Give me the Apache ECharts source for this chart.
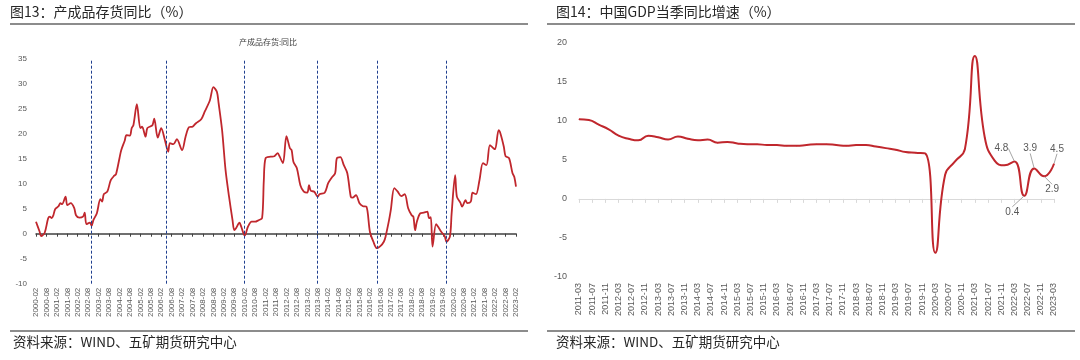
<!DOCTYPE html>
<html><head><meta charset="utf-8">
<script src="https://cdn.jsdelivr.net/npm/echarts@6/dist/echarts.min.js"></script>
<style>html,body{margin:0;padding:0;background:#fff}#c{width:1080px;height:360px}</style>
</head><body><div id="c"></div>
<script>
// ---------- Data: 产成品存货同比 (%) ----------
const invDates = ['2000-02','2000-04','2000-05','2000-07','2000-09','2000-10','2000-11','2000-12','2001-01','2001-03','2001-04','2001-05','2001-07','2001-08','2001-10','2001-12','2002-01','2002-03','2002-05','2002-06','2002-07','2002-09','2002-10','2002-11','2003-01','2003-03','2003-04','2003-05','2003-07','2003-09','2003-11','2003-12','2004-02','2004-03','2004-05','2004-06','2004-08','2004-09','2004-10','2004-12','2005-02','2005-03','2005-05','2005-06','2005-08','2005-09','2005-10','2005-12','2006-02','2006-04','2006-06','2006-07','2006-09','2006-11','2007-02','2007-04','2007-06','2007-08','2007-10','2008-01','2008-03','2008-06','2008-08','2008-10','2008-11','2009-01','2009-03','2009-05','2009-07','2009-08','2009-09','2009-11','2009-12','2010-02','2010-04','2010-06','2010-08','2010-10','2010-12','2011-01','2011-02','2011-05','2011-07','2011-09','2011-10','2011-12','2012-02','2012-04','2012-05','2012-06','2012-08','2012-10','2012-12','2013-02','2013-03','2013-04','2013-06','2013-08','2013-09','2013-12','2014-02','2014-04','2014-06','2014-07','2014-09','2014-11','2015-01','2015-03','2015-04','2015-06','2015-08','2015-10','2015-12','2016-02','2016-04','2016-06','2016-08','2016-10','2016-11','2017-01','2017-02','2017-04','2017-06','2017-08','2017-10','2017-12','2018-02','2018-03','2018-04','2018-05','2018-07','2018-09','2018-11','2018-12','2019-01','2019-02','2019-04','2019-05','2019-07','2019-09','2019-10','2019-12','2020-01','2020-03','2020-04','2020-06','2020-07','2020-09','2020-10','2020-12','2021-01','2021-03','2021-05','2021-07','2021-09','2021-11','2022-01','2022-02','2022-04','2022-05','2022-07','2022-08','2022-10','2022-12','2023-01','2023-02'];
const invValues = [2.4,0.5,-0.5,0.2,3.1,3.4,3.1,3.7,4.9,5.5,6.1,5.9,7.4,5.7,6.1,5.1,3.7,3.2,3.4,4.2,1.9,2.2,1.6,2.7,4.1,6.9,6.4,7.9,8.4,10.7,11.6,11.9,15.1,16.7,18.6,19.7,19.6,21.1,21.7,25.9,21.1,21.4,19.4,21.1,21.5,21.7,23.0,19.2,21.1,18.9,16.4,18.1,17.9,18.9,16.7,19.4,21.3,21.4,22.1,22.9,24.4,26.7,29.3,28.4,26.1,20.7,12.7,7.4,2.7,0.7,1.1,2.2,1.4,-0.4,1.5,2.4,2.4,2.7,3.1,10.7,15.1,15.4,15.5,16.1,15.5,14.1,19.5,17.1,16.7,14.4,13.1,9.7,8.4,8.2,9.7,8.6,8.4,7.4,7.9,8.2,10.1,11.2,12.1,15.1,15.3,13.7,12.1,7.4,7.2,7.7,6.1,5.5,5.4,0.4,-1.6,-2.9,-2.5,-1.6,-0.6,2.7,4.7,9.1,8.4,7.5,7.9,5.1,3.7,3.4,0.7,2.4,4.1,4.2,4.4,3.1,3.3,-2.6,1.9,1.5,0.4,-0.5,-1.6,-0.6,4.1,11.7,7.4,6.2,5.4,6.7,6.1,6.4,8.2,7.9,10.7,14.1,13.7,17.7,17.1,16.9,20.7,20.1,17.4,15.5,15.1,12.1,11.4,9.4];
const invCycleMarks = ['2002-10','2006-05','2010-02','2013-08','2016-06','2019-10'];
const invRange = ['2000-02','2023-02'];
const invYTicks = {min:-10, max:35, step:5};

// ---------- Data: 中国GDP当季同比增速 (%) ----------
const gdpDates = ['2011-03','2011-06','2011-09','2011-12','2012-03','2012-06','2012-09','2012-12','2013-03','2013-06','2013-09','2013-12','2014-03','2014-06','2014-09','2014-12','2015-03','2015-06','2015-09','2015-12','2016-03','2016-06','2016-09','2016-12','2017-03','2017-06','2017-09','2017-12','2018-03','2018-06','2018-09','2018-12','2019-03','2019-06','2019-09','2019-12','2020-03','2020-06','2020-09','2020-12','2021-03','2021-06','2021-09','2021-12','2022-03','2022-06','2022-09','2022-12','2023-03'];
const gdpValues = [10.2,10.1,9.5,8.9,8.1,7.7,7.5,8.1,7.9,7.6,8.0,7.7,7.5,7.6,7.2,7.3,7.1,7.0,7.0,6.9,6.9,6.8,6.8,6.9,7.0,7.0,6.9,6.8,6.9,6.9,6.7,6.5,6.3,6.0,5.9,5.8,-6.9,3.1,4.8,6.4,18.3,7.9,4.9,4.3,4.8,0.4,3.9,2.9,4.5];
const gdpLabelled = ['2022-03','2022-06','2022-09','2022-12','2023-03'];
const gdpRange = ['2011-03','2023-03'];
const gdpYTicks = {min:-10, max:20, step:5};

// ---------- styling (not data) ----------
const labelOffsets = {'2022-03':[-13,-13],'2022-06':[-12,16],'2022-09':[-4,-20],'2022-12':[8,13],'2023-03':[3,-15]};
const RED = '#C0272D';
const AX = '#595959';
const FONT = 'Liberation Sans, Arial, sans-serif';
const CJK = '"Noto Sans CJK SC", sans-serif';

function monthRange(a, b){
  let [y,m] = a.split('-').map(Number); const [y1,m1] = b.split('-').map(Number);
  const out=[];
  while (y<y1 || (y===y1 && m<=m1)) { out.push(y+'-'+String(m).padStart(2,'0')); m++; if(m>12){m=1;y++;} }
  return out;
}
const invCats = monthRange(invRange[0], invRange[1]);
const gdpCats = monthRange(gdpRange[0], gdpRange[1]);

const chart = echarts.init(document.getElementById('c'), null, {renderer:'canvas'});

const txt = (x,y,t,size,color,align,family)=>({type:'text', x, y, silent:true,
  style:{text:t, fill:color, font: size+'px '+(family||CJK), textAlign:align||'left', textVerticalAlign:'middle'}});
const line = (x1,y1,x2,y2,c,w)=>({type:'line', silent:true, shape:{x1,y1,x2,y2}, style:{stroke:c, lineWidth:w}});

chart.setOption({
  animation:false,
  backgroundColor:'#fff',
  graphic:[
    txt(10,12,'图13：产成品存货同比（%）',14,'#262626'),
    txt(556,12,'图14：中国GDP当季同比增速（%）',14,'#262626'),
    line(10,24,528,24,'#666',1.5),
    line(547,24,1075,24,'#666',1.5),
    line(10,331,528,331,'#666',1.5),
    line(547,331,1075,331,'#666',1.5),
    txt(13,342,'资料来源：WIND、五矿期货研究中心',13.5,'#262626'),
    txt(556,342,'资料来源：WIND、五矿期货研究中心',13.5,'#262626'),
    txt(268,42,'产成品存货:同比',8,'#404040','center')
  ],
  grid:[
    {left:36, top:58.7, width:480, height:225},
    {left:579, top:42.7, width:475, height:234.3}
  ],
  xAxis:[
    {gridIndex:0, type:'category', data:invCats, boundaryGap:false, position:'bottom',
      axisLine:{show:false, onZero:false}, axisTick:{show:false},
      axisLabel:{interval:5, rotate:90, fontSize:8, color:AX, margin:4, fontFamily:FONT}},
    {gridIndex:0, type:'category', data:invCats, boundaryGap:false, position:'bottom',
      axisLine:{show:true, onZero:true, lineStyle:{color:'#404040', width:1.5}},
      axisTick:{show:true, interval:5, length:3, lineStyle:{color:'#404040'}},
      axisLabel:{show:false}},
    {gridIndex:1, type:'category', data:gdpCats, boundaryGap:false, position:'bottom',
      axisLine:{show:false, onZero:false}, axisTick:{show:false},
      axisLabel:{interval:3, rotate:90, fontSize:9, color:AX, margin:6, fontFamily:FONT}},
    {gridIndex:1, type:'category', data:gdpCats, boundaryGap:false, position:'bottom',
      axisLine:{show:true, onZero:true, lineStyle:{color:'#d9d9d9', width:1}},
      axisTick:{show:true, interval:3, length:4, lineStyle:{color:'#d9d9d9'}},
      axisLabel:{show:false}}
  ],
  yAxis:[
    {gridIndex:0, type:'value', min:invYTicks.min, max:invYTicks.max, interval:invYTicks.step,
      axisLine:{show:false}, axisTick:{show:false}, splitLine:{show:false},
      axisLabel:{fontSize:8, color:AX, margin:9, fontFamily:FONT}},
    {gridIndex:1, type:'value', min:gdpYTicks.min, max:gdpYTicks.max, interval:gdpYTicks.step,
      axisLine:{show:false}, axisTick:{show:false}, splitLine:{show:false},
      axisLabel:{fontSize:9, color:AX, margin:12, fontFamily:FONT}}
  ],
  series:[
    {type:'line', xAxisIndex:0, yAxisIndex:0, silent:true, smooth:0.3,
      data: invDates.map((d,i)=>[d, invValues[i]]),
      showSymbol:false, lineStyle:{color:RED, width:1.8}, itemStyle:{color:RED},
      markLine:{silent:true, symbol:'none', label:{show:false},
        lineStyle:{color:'#1F3F8F', type:[3,2], width:1},
        data: invCycleMarks.map(d=>({xAxis:d}))}},
    {type:'line', xAxisIndex:2, yAxisIndex:1, silent:true, smooth:0.5,
      data: gdpDates.map((d,i)=>{
        const item = {value:[d, gdpValues[i]]};
        if (gdpLabelled.includes(d)) item.label = {show:true};
        return item;
      }),
      showSymbol:true, symbol:'circle', symbolSize:1,
      lineStyle:{color:RED, width:2}, itemStyle:{color:RED},
      label:{show:false, position:'inside', fontSize:10, color:'#595959', fontFamily:FONT,
        formatter:p=>String(p.value[1])},
      labelLine:{show:true, lineStyle:{color:'#a6a6a6', width:1}},
      labelLayout:function(p){
        const o = labelOffsets[gdpDates[p.dataIndex]];
        return o ? {dx:o[0], dy:o[1]} : {};
      }}
  ]
});
</script></body></html>
